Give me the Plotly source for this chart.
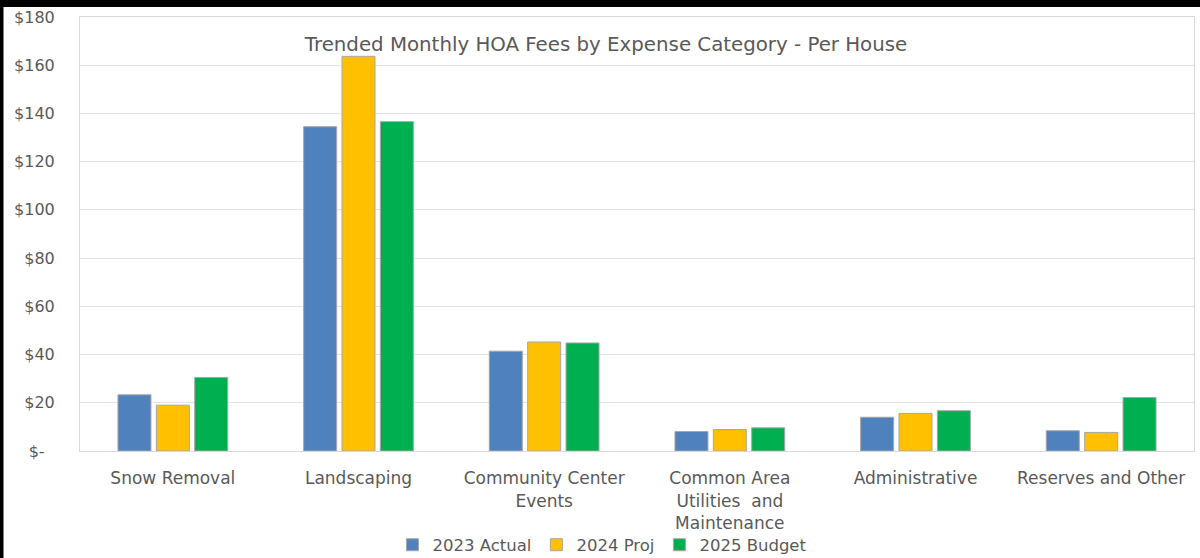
import plotly.graph_objects as go

categories = ["Snow Removal", "Landscaping", "Community Center<br>Events",
              "Common Area<br>Utilities  and<br>Maintenance", "Administrative", "Reserves and Other"]
actual_2023 = [23.3, 134.5, 41.4, 8.1, 14.0, 8.4]
proj_2024 = [19.0, 163.7, 45.2, 8.9, 15.6, 7.7]
budget_2025 = [30.5, 136.6, 44.8, 9.6, 16.7, 22.2]

series_names = ["2023 Actual", "2024 Proj", "2025 Budget"]
series_colors = ["#4F81BD", "#FFC000", "#00B050"]

y_tickvals = [0, 20, 40, 60, 80, 100, 120, 140, 160, 180]
y_ticktext = ["$-\u00a0\u00a0", "$20", "$40", "$60", "$80", "$100", "$120", "$140", "$160", "$180"]

title_text = "Trended Monthly HOA Fees by Expense Category - Per House"

FONT = "DejaVu Sans, sans-serif"
GRAY = "#595959"

fig = go.Figure()
for name, vals, col in zip(series_names, [actual_2023, proj_2024, budget_2025], series_colors):
    fig.add_trace(go.Bar(
        x=categories, y=vals, name=name,
        marker=dict(color=col, line=dict(color="#A6A6A6", width=1)),
    ))

W, H = 1200, 558
ml, mr, mt, mb = 80, 6, 17, 107
pw, ph = W - ml - mr, H - mt - mb

def px_x(p):
    return (p - ml) / pw

def px_y(p):
    return (H - mb - p) / ph

fig.update_layout(
    width=W, height=H, autosize=False,
    margin=dict(l=ml, r=mr, t=mt, b=mb, pad=0, autoexpand=False),
    paper_bgcolor="white", plot_bgcolor="white",
    barmode="group", bargap=0.38, bargroupgap=0.14,
    font=dict(family=FONT, color=GRAY, size=16),
    title=dict(text=title_text, x=0.505, xanchor="center", y=1 - 44 / H, yanchor="middle",
               font=dict(family=FONT, size=19.8, color=GRAY)),
    legend=dict(orientation="h", x=0.469, xanchor="center", y=px_y(545), yanchor="middle",
                font=dict(size=16.5, color=GRAY), traceorder="normal",
                itemwidth=30, tracegroupgap=0, bgcolor="rgba(0,0,0,0)"),
    showlegend=True,
)
fig.update_xaxes(
    showgrid=False, showline=True, linecolor="#D9D9D9", linewidth=1, mirror=True,
    tickfont=dict(size=17, color=GRAY), ticks="", ticklabelstandoff=12, automargin=False,
)
fig.update_yaxes(
    range=[0, 180], tickvals=y_tickvals, ticktext=y_ticktext,
    showgrid=True, gridcolor="#E3E3E3", gridwidth=1,
    showline=True, linecolor="#D9D9D9", linewidth=1, mirror=True,
    zeroline=False, tickfont=dict(size=16, color=GRAY), ticks="",
    ticklabelstandoff=21, automargin=False,
)

# black frame on the top and left edges of the picture
fig.add_shape(type="rect", xref="paper", yref="paper",
              x0=px_x(0), x1=px_x(1200), y0=px_y(0), y1=px_y(7),
              fillcolor="black", line=dict(width=0), layer="above")
fig.add_shape(type="rect", xref="paper", yref="paper",
              x0=px_x(0), x1=px_x(3.5), y0=px_y(0), y1=px_y(558),
              fillcolor="black", line=dict(width=0), layer="above")

fig.write_html("out.html")
